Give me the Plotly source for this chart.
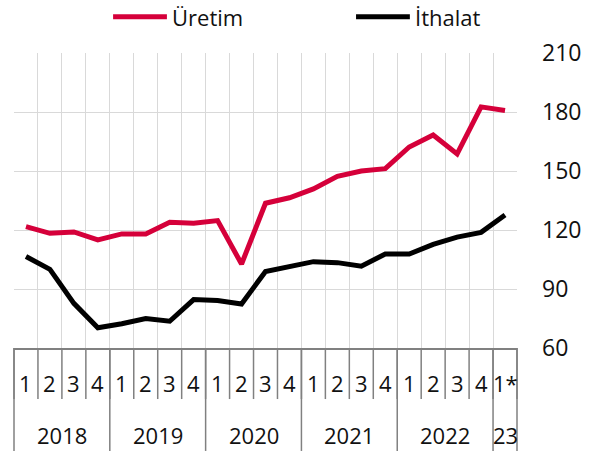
import plotly.graph_objects as go

quarters = ["1", "2", "3", "4"] * 5 + ["1*"]
years = ["2018", "2019", "2020", "2021", "2022", "23"]
year_lengths = [4, 4, 4, 4, 4, 1]

uretim = [121.7, 118.3, 119.0, 115.0, 118.0, 118.0, 123.9, 123.4, 124.8, 102.7,
          133.6, 136.4, 140.9, 147.3, 150.0, 151.2, 162.2, 168.3, 158.7, 182.6, 180.8]
ithalat = [106.5, 100.0, 82.7, 70.3, 72.3, 75.0, 73.6, 84.6, 84.1, 82.4,
           98.9, 101.6, 103.9, 103.4, 101.6, 107.8, 107.8, 112.7, 116.4, 118.8, 127.6]

y_ticks = [60, 90, 120, 150, 180, 210]

RED = "#D5003A"
BLACK = "#000000"
GRID = "#d9d9d9"
SEP = "#808080"
FONT = "Open Sans"

n = len(quarters)
x = list(range(n))

fig = go.Figure()
fig.add_trace(go.Scatter(x=x, y=uretim, mode="lines", name="Üretim",
                         line=dict(color=RED, width=5)))
fig.add_trace(go.Scatter(x=x, y=ithalat, mode="lines", name="İthalat",
                         line=dict(color=BLACK, width=5)))

shapes = []
annotations = []

# quarter separators and labels
for k in range(n + 1):
    shapes.append(dict(type="line", xref="x domain", yref="paper",
                       x0=k / n, x1=k / n, y0=0, y1=-0.173,
                       line=dict(color=SEP, width=1.5)))
for i, q in enumerate(quarters):
    annotations.append(dict(x=i, y=-0.119, xref="x", yref="paper", text=q,
                            showarrow=False, font=dict(size=22, color="#111111", family=FONT),
                            xanchor="center", yanchor="middle"))

# year separators and labels
pos = 0
bounds = [0]
for L in year_lengths:
    pos += L
    bounds.append(pos)
for b in bounds:
    shapes.append(dict(type="line", xref="x domain", yref="paper",
                       x0=b / n, x1=b / n, y0=0, y1=-0.349,
                       line=dict(color=SEP, width=1.5)))
for j, yr in enumerate(years):
    c = (bounds[j] + bounds[j + 1]) / 2 - 0.5
    annotations.append(dict(x=c, y=-0.295, xref="x", yref="paper", text=yr,
                            showarrow=False, font=dict(size=22, color="#111111", family=FONT),
                            xanchor="center", yanchor="middle"))

# legend
legend_items = [("Üretim", RED, 0.197, 0.304), ("İthalat", BLACK, 0.680, 0.787)]
for name, col, a, b in legend_items:
    shapes.append(dict(type="line", xref="paper", yref="paper", x0=a, x1=b,
                       y0=1.123, y1=1.123, line=dict(color=col, width=5)))
    annotations.append(dict(x=b + 0.006, y=1.123, xref="paper", yref="paper", text=name,
                            showarrow=False, xanchor="left", yanchor="middle",
                            font=dict(size=22, color="#111111", family=FONT)))

fig.update_layout(
    width=597, height=455,
    margin=dict(l=14, r=80, t=53, b=107, autoexpand=False),
    paper_bgcolor="white", plot_bgcolor="white",
    showlegend=False,
    font=dict(family=FONT, size=22, color="#111111"),
    shapes=shapes, annotations=annotations,
    xaxis=dict(range=[-0.5, n - 0.5], tickmode="array",
               tickvals=[k - 0.5 for k in range(n + 1)], showticklabels=False,
               showgrid=True, gridcolor=GRID, gridwidth=1, zeroline=False,
               showline=True, linecolor=SEP, linewidth=1.5, ticks="",
               automargin=False),
    yaxis=dict(range=[60, 210], side="right", tickmode="array", tickvals=y_ticks,
               showgrid=True, gridcolor=GRID, gridwidth=1, zeroline=False,
               showline=False, ticks="", ticklabelstandoff=24, automargin=False,
               tickfont=dict(size=23, color="#111111", family=FONT)),
)

fig.write_html("out.html",
               config={"displayModeBar": False},
               post_script="document.body.style.margin='0px';document.body.style.overflow='hidden';")
